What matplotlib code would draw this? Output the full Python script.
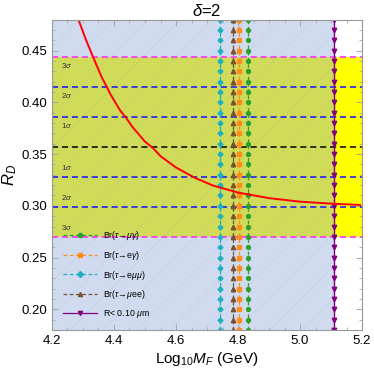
import numpy as np
import matplotlib
matplotlib.use("Agg")
import matplotlib.pyplot as plt
from matplotlib.lines import Line2D

plt.rcParams['font.family'] = ['Liberation Sans', 'DejaVu Sans']
plt.rcParams['mathtext.fontset'] = 'custom'
plt.rcParams['mathtext.rm'] = 'Liberation Sans'
plt.rcParams['mathtext.it'] = 'Liberation Sans:italic'

# ---- data ----
rd_center = 0.357
rd_sigma = 0.029
sigma_levels = [1, 2, 3]

curve_x = [4.284, 4.310, 4.335, 4.360, 4.390, 4.420, 4.439, 4.460, 4.500, 4.525,
           4.550, 4.600, 4.661, 4.720, 4.800, 4.900, 5.000, 5.100, 5.194]
curve_y = [0.481, 0.460, 0.442, 0.4245, 0.407, 0.392, 0.385, 0.376, 0.362, 0.356,
           0.348, 0.337, 0.327, 0.3195, 0.3128, 0.3074, 0.304, 0.3021, 0.3008]

limit_names = ["Br($\\tau$→$\\mu\\gamma$)", "Br($\\tau$→e$\\gamma$)", "Br($\\tau$→e$\\mu\\mu$)",
               "Br($\\tau$→$\\mu$ee)", "R< 0.10 $\\mu$m"]
limit_x = [4.831, 4.803, 4.742, 4.783, 5.11]
limit_colors = ["#2ca02c", "#ff8c1a", "#1fb0c0", "#7a5230", "#800080"]
limit_markers = ["o", "s", "D", "^", "v"]
limit_styles = ["--", "--", "--", "--", "-"]

xlim = (4.2, 5.2)
ylim = (0.18, 0.48)
xticks = [4.2, 4.4, 4.6, 4.8, 5.0, 5.2]
yticks = [0.20, 0.25, 0.30, 0.35, 0.40, 0.45]

# ---- figure ----
fig = plt.figure(figsize=(3.74, 3.75), dpi=100)
ax = fig.add_axes([0.139, 0.12, 0.829, 0.828])
ax.set_xlim(*xlim)
ax.set_ylim(*ylim)

lo3 = rd_center - 3 * rd_sigma
hi3 = rd_center + 3 * rd_sigma
x_excl = limit_x[4]

# yellow band (allowed R_D range)
ax.fill_between([xlim[0], xlim[1]], lo3, hi3, color="#ffff00", lw=0, zorder=1)
# blue-gray excluded region (semi transparent)
plt.rcParams['hatch.linewidth'] = 0.4
ax.fill_between([xlim[0], x_excl], ylim[0], ylim[1], facecolor=(0.56, 0.67, 0.85, 0.42),
                lw=0, zorder=2)
ax.fill_between([xlim[0], x_excl], ylim[0], ylim[1], facecolor="none", hatch="/",
                edgecolor=(0.55, 0.62, 0.75, 0.22), lw=0, zorder=2)

# sigma lines
ax.axhline(rd_center, color="black", ls=(0, (4, 2.5)), lw=1.1, zorder=3)
for s in sigma_levels:
    col = "#ff22ff" if s == 3 else "#1010ff"
    for sign in (-1, 1):
        ax.axhline(rd_center + sign * s * rd_sigma, color=col, ls=(0, (4, 2.5)), lw=1.1, zorder=3)
        ypos = rd_center + sign * (s - 0.3) * rd_sigma
        ax.text(4.228, ypos, f"{s}$\\sigma$", fontsize=5.8, color="#333333",
                va="center", ha="left", zorder=4)

# vertical limit lines with markers
y_grid = np.arange(0.18, 0.485, 0.01)
for name, xv, c, m, ls in zip(limit_names, limit_x, limit_colors, limit_markers, limit_styles):
    ms = {"o": 2.8, "s": 2.8, "D": 2.5, "^": 3.2, "v": 3.2}[m]
    ax.plot(np.full_like(y_grid, xv), y_grid, color=c, ls=ls, lw=1.0 if ls == "-" else 0.9,
            marker=m, ms=ms, zorder=5, clip_on=True,
            dashes=(3, 2) if ls == "--" else (None, None))

# red curve
ax.plot(curve_x, curve_y, color="#ff0000", lw=1.4, zorder=6)

# legend
handles = []
for name, c, m, ls in zip(limit_names, limit_colors, limit_markers, limit_styles):
    h = Line2D([0], [0], color=c, ls=ls, lw=0.9, marker=m, ms=3,
               dashes=(3, 2) if ls == "--" else (None, None))
    handles.append(h)
leg = ax.legend(handles, limit_names, loc="lower left", bbox_to_anchor=(0.01, 0.008),
                frameon=False, fontsize=6.3, handlelength=3.9, labelspacing=0.75,
                handletextpad=0.7)
leg.set_zorder(7)

# ticks / frame
ax.set_xticks(xticks)
ax.set_yticks(yticks)
ax.set_xticklabels(["4.2", "4.4", "4.6", "4.8", "5.0", "5.2"])
ax.set_yticklabels(["0.20", "0.25", "0.30", "0.35", "0.40", "0.45"])
ax.set_xticks(np.arange(4.2, 5.2001, 0.05), minor=True)
ax.set_yticks(np.arange(0.18, 0.4801, 0.01), minor=True)
ax.tick_params(which="both", direction="in", top=True, right=True, color="#999999",
               labelsize=9.5)
ax.tick_params(which="major", length=4, width=0.6)
ax.tick_params(which="minor", length=2, width=0.5)
for sp in ax.spines.values():
    sp.set_color("#999999")
    sp.set_linewidth(0.8)
    sp.set_zorder(8)

ax.set_title("$\\delta$=2", fontsize=12, pad=2)
ax.set_xlabel("Log$_{10}M_F$ (GeV)", fontsize=11, labelpad=2)
ax.set_ylabel("$R_D$", fontsize=12, labelpad=2)

fig.savefig("out.png", dpi=100)
